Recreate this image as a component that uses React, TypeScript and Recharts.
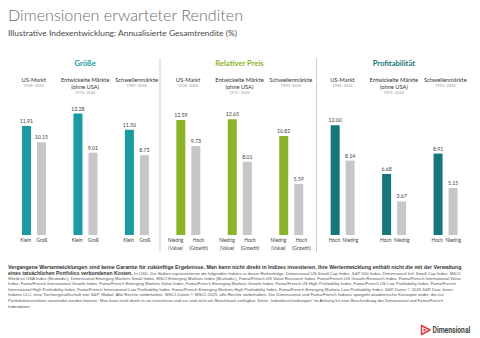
import React from 'react';
import { BarChart, Bar, XAxis, YAxis, Cell, LabelList } from 'recharts';

const groupTitles = ['Größe', 'Relativer Preis', 'Profitabilität'];
const groupColors = ['#1a9aa1', '#8cb42a', '#17767a'];
const compareColor = '#c7c7c7';
const marketLines = [['US-Markt'], ['Entwickelte Märkte', '(ohne USA)'], ['Schwellenmärkte']];
const periods = ['1928–2024', '1970–2024', '1989–2024', '1928–2024', '1975–2024', '1990–2024', '1964–2024', '1991–2024', '1992–2024'];
const factorValues = [11.91, 13.28, 11.5, 12.59, 12.65, 10.82, 12.0, 6.68, 8.91];
const compareValues = [10.15, 9.01, 8.73, 9.73, 8.01, 5.59, 8.14, 3.67, 5.15];
const factorLabels = [['Klein'], ['Niedrig', '(Value)'], ['Hoch']];
const compareLabels = [['Groß'], ['Hoch', '(Growth)'], ['Niedrig']];

const title = 'Dimensionen erwarteter Renditen';
const subtitle = 'Illustrative Indexentwicklung: Annualisierte Gesamtrendite (%)';
const footBold1 = 'Vergangene Wertentwicklungen sind keine Garantie für zukünftige Ergebnisse. Man kann nicht direkt in Indizes investieren. Ihre Wertentwicklung enthält nicht die mit der Verwaltung';
const footBold2 = 'eines tatsächlichen Portfolios verbundenen Kosten.';
const footLine2 = 'In USD. Die Balken repräsentieren die folgenden Indizes in dieser Reihenfolge: Dimensional US Small Cap Index, S&P 500 Index, Dimensional Intl. Small Cap Index, MSCI';
const footLines = [
  'World ex USA Index (Bruttodiv.), Dimensional Emerging Markets Small Index, MSCI Emerging Markets Index (Bruttodiv.), Fama/French US Value Research Index, Fama/French US Growth Research Index, Fama/French International Value',
  'Index, Fama/French International Growth Index, Fama/French Emerging Markets Value Index, Fama/French Emerging Markets Growth Index, Fama/French US High Profitability Index, Fama/French US Low Profitability Index, Fama/French',
  'International High Profitability Index, Fama/French International Low Profitability Index, Fama/French Emerging Markets High Profitability Index, Fama/French Emerging Markets Low Profitability Index. S&P-Daten © 2025 S&P Dow Jones',
  'Indizes LLC, eine Tochtergesellschaft von S&P Global. Alle Rechte vorbehalten. MSCI-Daten © MSCI 2025, alle Rechte vorbehalten. Die Dimensional und Fama/French Indizes spiegeln akademische Konzepte wider, die zur',
  'Portfoliokonstruktion verwendet werden können. Man kann nicht direkt in sie investieren und sie sind nicht als Benchmark verfügbar. Siehe „Indexbeschreibungen“ im Anhang für eine Beschreibung der Dimensional und Fama/French',
  'Indexdaten.',
];
const footLineWidths = [453, 448, 445, 436, 435, 23];
const brand = 'Dimensional';

const data = periods.map((p, i) => ({
  id: String(i),
  group: Math.floor(i / 3),
  market: i % 3,
  period: p,
  factor: factorValues[i],
  compare: compareValues[i],
}));

const FONT = 'Lato, "Open Sans", sans-serif';
const NOTE_FONT = '"Liberation Sans", Arial, sans-serif';

const TopTick = (props: any) => {
  const { x, index } = props;
  const d = data[index];
  if (!d) return null;
  const lines = marketLines[d.market];
  return (
    <g>
      {d.market === 1 && (
        <text x={x} y={63} textAnchor="middle" dominantBaseline="central" fontSize={7.6} fontWeight={700} fill={groupColors[d.group]} fontFamily={FONT}>
          {groupTitles[d.group]}
        </text>
      )}
      {lines.map((l, k) => (
        <text key={k} x={x} y={79 + k * 7} textAnchor="middle" dominantBaseline="central" fontSize={5.7} fill="#333" fontFamily={FONT}>
          {l}
        </text>
      ))}
      <text x={x} y={lines.length > 1 ? 92 : 85.5} textAnchor="middle" dominantBaseline="central" fontSize={3.9} fill="#999" fontFamily={FONT}>
        {d.period}
      </text>
    </g>
  );
};

const BottomTick = (props: any) => {
  const { x, index } = props;
  const d = data[index];
  if (!d) return null;
  const left = factorLabels[d.group];
  const right = compareLabels[d.group];
  const twoLine = left.length > 1;
  const lx = twoLine ? x - 12.5 : x - 8;
  const rx = twoLine ? x + 10.5 : x + 8;
  return (
    <g>
      {left.map((l, k) => (
        <text key={'l' + k} x={lx} y={240 + k * 7.5} textAnchor="middle" dominantBaseline="central" fontSize={4.9} fill="#444" fontFamily={FONT}>
          {l}
        </text>
      ))}
      {right.map((l, k) => (
        <text key={'r' + k} x={rx} y={240 + k * 7.5} textAnchor="middle" dominantBaseline="central" fontSize={4.9} fill="#444" fontFamily={FONT}>
          {l}
        </text>
      ))}
    </g>
  );
};

const fmt = (v: any) => Number(v).toFixed(2);

export default function App() {
  return (
    <div style={{ position: 'absolute', left: 0, top: 0, width: 480, height: 338, background: '#fff', overflow: 'hidden' }}>
      <svg width={480} height={338} style={{ position: 'absolute', left: 0, top: 0 }}>
        <text x={8} y={20.5} fontSize={15.5} fontWeight={300} fill="#6e6e6e" fontFamily={FONT} textLength={235} lengthAdjust="spacingAndGlyphs">
          {title}
        </text>
        <text x={8} y={35.5} fontSize={7.1} fontWeight={400} fill="#4a4a4a" fontFamily={FONT} textLength={229} lengthAdjust="spacingAndGlyphs">
          {subtitle}
        </text>
        <line x1={160} x2={160} y1={58} y2={252} stroke="#cfcfcf" strokeWidth={1} />
        <line x1={316.5} x2={316.5} y1={58} y2={252} stroke="#cfcfcf" strokeWidth={1} />
        <text x={8} y={269.2} fontSize={5.4} fontWeight={700} fill="#333" fontFamily={NOTE_FONT} textLength={453.5} lengthAdjust="spacingAndGlyphs">
          {footBold1}
        </text>
        <text x={8} y={274.6} fontSize={5.4} fontWeight={700} fill="#333" fontFamily={NOTE_FONT} textLength={124.5} lengthAdjust="spacingAndGlyphs">
          {footBold2}
        </text>
        <text x={134} y={274.6} fontSize={4.2} fill="#555" fontFamily={NOTE_FONT} textLength={326.5} lengthAdjust="spacingAndGlyphs">
          {footLine2}
        </text>
        {footLines.map((l, i) => (
          <text key={i} x={8} y={279.5 + i * 5.6} fontSize={4.2} fill="#555" fontFamily={NOTE_FONT} textLength={footLineWidths[i]} lengthAdjust="spacingAndGlyphs">
            {l}
          </text>
        ))}
        <g>
          <path d="M421.5,325.5 L430,330 L421.5,334.5 Z" fill="none" stroke="#e0393e" strokeWidth={1.5} strokeLinejoin="round" />
          <path d="M423.5,328.6 L426.6,330 L423.5,331.4 Z" fill="#e0393e" />
          <g transform="translate(432.5,333) scale(0.7,1)">
            <text x={0} y={0} fontSize={8.4} fontWeight={700} fill="#444" fontFamily="Roboto, sans-serif" textLength={54} lengthAdjust="spacingAndGlyphs">
              {brand}
            </text>
          </g>
        </g>
      </svg>
      <div style={{ position: 'absolute', left: 0, top: 0 }}>
        <BarChart width={480} height={338} data={data} margin={{ top: 57, right: 9, left: 8, bottom: 83 }} barSize={9} barGap={6}>
          <XAxis xAxisId="top" orientation="top" dataKey="id" height={50} interval={0} axisLine={false} tickLine={false} tick={<TopTick />} />
          <XAxis dataKey="id" height={20} interval={0} axisLine={false} tickLine={false} tick={<BottomTick />} />
          <YAxis hide domain={[0, 14]} />
          <Bar dataKey="factor" isAnimationActive={false}>
            {data.map((d, i) => (
              <Cell key={i} fill={groupColors[d.group]} />
            ))}
            <LabelList dataKey="factor" position="top" offset={3} formatter={fmt} fontSize={5.2} fill="#444" fontFamily={FONT} />
          </Bar>
          <Bar dataKey="compare" fill={compareColor} isAnimationActive={false}>
            <LabelList dataKey="compare" position="top" offset={3} formatter={fmt} fontSize={5.2} fill="#444" fontFamily={FONT} />
          </Bar>
        </BarChart>
      </div>
    </div>
  );
}
